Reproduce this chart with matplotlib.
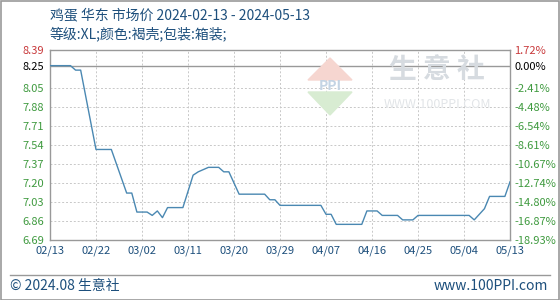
import datetime as dt
import matplotlib.pyplot as plt
import matplotlib.dates as mdates
from matplotlib.patches import Polygon, Rectangle
from matplotlib.lines import Line2D

plt.rcParams['font.family'] = ['Noto Sans CJK SC', 'DejaVu Sans']

# data (day offset from 2024-02-13, price)
start = dt.date(2024, 2, 13)
day_offsets = [0, 4, 5, 6, 9, 12, 15, 16, 17, 19, 20, 21, 22, 23, 26, 28, 29, 31,
               33, 34, 35, 37, 42, 43, 44, 45, 53, 54, 55, 56, 61, 62, 64, 65,
               68, 69, 71, 72, 82, 83, 85, 86, 89, 90]
prices = [8.25, 8.25, 8.21, 8.21, 7.50, 7.50, 7.11, 7.11, 6.94, 6.94, 6.91, 6.95,
          6.89, 6.98, 6.98, 7.27, 7.30, 7.34, 7.34, 7.30, 7.30, 7.10, 7.10, 7.05,
          7.05, 7.00, 7.00, 6.92, 6.92, 6.83, 6.83, 6.95, 6.95, 6.91, 6.91, 6.87,
          6.87, 6.91, 6.91, 6.87, 6.97, 7.08, 7.08, 7.21]
base_price = 8.25
y_ticks = [6.69, 6.86, 7.03, 7.20, 7.37, 7.54, 7.71, 7.88, 8.05, 8.25, 8.39]
pct_labels = ["-18.93%", "-16.87%", "-14.80%", "-12.74%", "-10.67%", "-8.61%",
              "-6.54%", "-4.48%", "-2.41%", "0.00%", "1.72%"]
tick_days = [0, 9, 18, 27, 36, 45, 54, 63, 72, 81, 90]

title = "鸡蛋 华东 市场价 2024-02-13 - 2024-05-13"
subtitle = "等级:XL;颜色:褐壳;包装:箱装;"

dates = [start + dt.timedelta(days=d) for d in day_offsets]
xticks = [start + dt.timedelta(days=d) for d in tick_days]

RED = '#c8393b'
GREEN = '#3f9a3f'
BLUE = '#4a88b2'
TITLE_C = '#1d4f7c'

fig = plt.figure(figsize=(5.6, 3.0), dpi=100)
W, H = 560, 300
ax = fig.add_axes([50 / W, 1 - 240 / H, 460 / W, 190 / H])

# watermark
fig.patches.append(Polygon([[330 / W, 1 - 58 / H], [352 / W, 1 - 80 / H], [308 / W, 1 - 80 / H]],
                           closed=True, transform=fig.transFigure, color='#f6d6d0', zorder=0))
fig.patches.append(Polygon([[308 / W, 1 - 92 / H], [352 / W, 1 - 92 / H], [330 / W, 1 - 115 / H]],
                           closed=True, transform=fig.transFigure, color='#d8ecd2', zorder=0))
fig.text(330 / W, 1 - 86 / H, "PPI", color='#c4d4e4', fontsize=10, ha='center', va='center',
         fontweight='bold', zorder=0)
fig.text(437 / W, 1 - 70 / H, "生 意 社", color='#d6dbe0', fontsize=20, ha='center', va='center',
         fontweight='bold', zorder=0)
fig.text(437 / W, 1 - 105 / H, "WWW.100PPI.COM", color='#e2e5e8', fontsize=9, ha='center',
         va='center', zorder=0)
ax.set_facecolor('none')

ax.plot(dates, prices, color=BLUE, lw=1.0, zorder=3)
ax.axhline(base_price, color='#999999', lw=1.0, zorder=2)

ax.set_xlim(start, start + dt.timedelta(days=90))
ax.set_ylim(6.69, 8.39)
ax.set_xticks(xticks)
ax.xaxis.set_major_formatter(mdates.DateFormatter('%m/%d'))
ax.set_yticks(y_ticks)
ax.set_yticklabels([f"{v:.2f}" for v in y_ticks])
ax.grid(True, color='#c8c8c8', lw=0.7, ls=(0, (2, 2)))
ax.tick_params(length=0, labelsize=8, pad=4)
for lab in ax.get_xticklabels():
    lab.set_color(TITLE_C)
for lab, v in zip(ax.get_yticklabels(), y_ticks):
    lab.set_color(RED if v > base_price else ('black' if v == base_price else GREEN))
for s in ax.spines.values():
    s.set_color('#999999')
    s.set_linewidth(1.0)

ax2 = ax.twinx()
ax2.set_ylim(ax.get_ylim())
ax2.set_yticks(y_ticks)
ax2.set_yticklabels(pct_labels)
ax2.tick_params(length=0, labelsize=8, pad=3)
for lab, v in zip(ax2.get_yticklabels(), y_ticks):
    lab.set_color(RED if v > base_price else ('black' if v == base_price else GREEN))
for s in ax2.spines.values():
    s.set_visible(False)

fig.text(50 / W, 1 - 15 / H, title, color=TITLE_C, fontsize=10, va='center')
fig.text(50 / W, 1 - 34 / H, subtitle, color=TITLE_C, fontsize=10, va='center')

# footer
fig.lines.append(Line2D([10 / W, 550 / W], [1 - 275 / H, 1 - 275 / H], transform=fig.transFigure,
                        color='#999999', lw=1.0))
fig.text(10 / W, 1 - 286 / H, "© 2024.08 生意社", color=TITLE_C, fontsize=10, va='center')
fig.text(548 / W, 1 - 286 / H, "www.100PPI.com", color=TITLE_C, fontsize=10, va='center', ha='right')
fig.patches.append(Rectangle((0.5 / W, 0.5 / H), 1 - 1.5 / W, 1 - 1.5 / H, transform=fig.transFigure,
                             fill=False, edgecolor='#999999', lw=1.2))

fig.savefig("out.png", dpi=100)
